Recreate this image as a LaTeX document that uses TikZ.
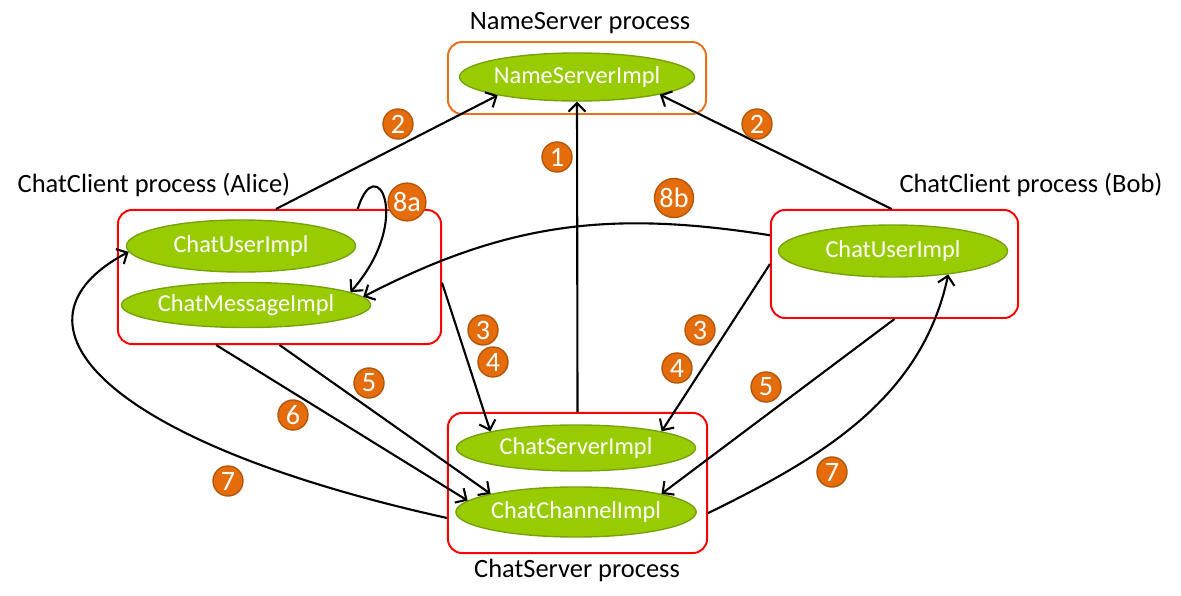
\documentclass[tikz,border=0pt]{standalone}
\usepackage{fontspec}
\setmainfont{Carlito}
\usetikzlibrary{arrows.meta,shapes.geometric}

\definecolor{implgreen}{HTML}{99CC00}
\definecolor{implline}{HTML}{76A20A}
\definecolor{badgefill}{HTML}{E46C0A}
\definecolor{badgeline}{HTML}{B4560A}
\definecolor{nsorange}{HTML}{E8711C}

\tikzset{
  proc/.style={draw=red, line width=1.4pt, rounded corners=10pt, inner sep=0pt},
  nsproc/.style={proc, draw=nsorange},
  proctitle/.style={font=\fontsize{18.8}{20}\selectfont, inner sep=0pt},
  impl/.style={ellipse, fill=implgreen, draw=implline, line width=1pt, text=white,
    inner sep=0pt, font=\fontsize{17.3}{19}\selectfont},
  badge/.style={circle, fill=badgefill, draw=badgeline, line width=1pt, text=white,
    inner sep=1pt, minimum size=0.75cm, font=\fontsize{20}{20}\selectfont}
}

\begin{document}
\begin{tikzpicture}[x=0.025cm, y=-0.025cm, line width=1.5pt, >={Straight Barb[length=6pt,width=12pt]}]
\useasboundingbox (0,0) rectangle (1181,596);

% process boxes
\node [nsproc, minimum width=6.45cm, minimum height=1.8cm] (nsbox) at (577,78) {};
\node [proc, minimum width=8.075cm, minimum height=3.35cm] (alicebox) at (279.5,277) {};
\node [proc, minimum width=6.175cm, minimum height=2.7cm] (bobbox) at (894.5,264) {};
\node [proc, minimum width=6.475cm, minimum height=3.5cm] (serverbox) at (577.5,483) {};

\node [proctitle] (nstitle) at (580,23) {NameServer process};
\node [proctitle] (alicetitle) at (154,185) {ChatClient process (Alice)};
\node [proctitle] (bobtitle) at (1031,185) {ChatClient process (Bob)};
\node [proctitle] (servertitle) at (577,570) {ChatServer process};

% remote objects
\node [impl, minimum width=5.725cm, minimum height=1.2cm] (nsimpl) at (577,77) {NameServerImpl};
\node [impl, minimum width=5.725cm, minimum height=1.3cm] (aliceuser) at (241,246) {ChatUserImpl};
\node [impl, minimum width=5.975cm, minimum height=1.125cm] (alicemsg) at (246,305) {ChatMessageImpl};
\node [impl, minimum width=5.725cm, minimum height=1.3cm] (bobuser) at (893,251) {ChatUserImpl};
\node [impl, minimum width=5.975cm, minimum height=1.15cm] (serverimpl) at (576,448) {ChatServerImpl};
\node [impl, minimum width=5.975cm, minimum height=1.25cm] (channelimpl) at (576,512) {ChatChannelImpl};

% calls
\draw [->] (alicebox.93) -- (nsimpl.193);
\draw [->] (bobbox.93) -- (nsimpl.348);
\draw [->] (serverbox.north) -- (nsimpl.south);
\draw [->] (alicebox.41) .. controls +(18,-60) and +(64,-73) .. (alicemsg.7);
\draw [->] (bobbox.167) .. controls +(-159,-25) and +(145,-75) .. (alicemsg.4);
\draw [->] (alicebox.358) -- (serverimpl.169);
\draw [->] (bobbox.west) -- (serverimpl.11);
\draw [->] (alicebox.south) -- (channelimpl.168);
\draw [->] (alicebox.227) -- (channelimpl.174);
\draw [->] (bobbox.south) -- (channelimpl.12);
\draw [->] (serverbox.195) .. controls +(-348,-77) and +(-132,70) .. (aliceuser.183);
\draw [->] (serverbox.347) .. controls +(108,-53) and +(-27,127) .. (bobuser.337);

% step numbers
\node [badge] (nb2l) at (398,124) {2};
\node [badge] (nb2r) at (757,124) {2};
\node [badge] (nb1) at (557,157) {1};
\node [badge] (nb8a) at (407,202) {8a};
\node [badge] (nb8b) at (674,198) {8b};
\node [badge] (nb3l) at (483,330) {3};
\node [badge] (nb4l) at (493,362) {4};
\node [badge] (nb5l) at (369,383) {5};
\node [badge] (nb6) at (293,415) {6};
\node [badge] (nb7l) at (228,481) {7};
\node [badge] (nb3r) at (700,330) {3};
\node [badge] (nb4r) at (677,368) {4};
\node [badge] (nb5r) at (766,387) {5};
\node [badge] (nb7r) at (832,472) {7};

\end{tikzpicture}
\end{document}
